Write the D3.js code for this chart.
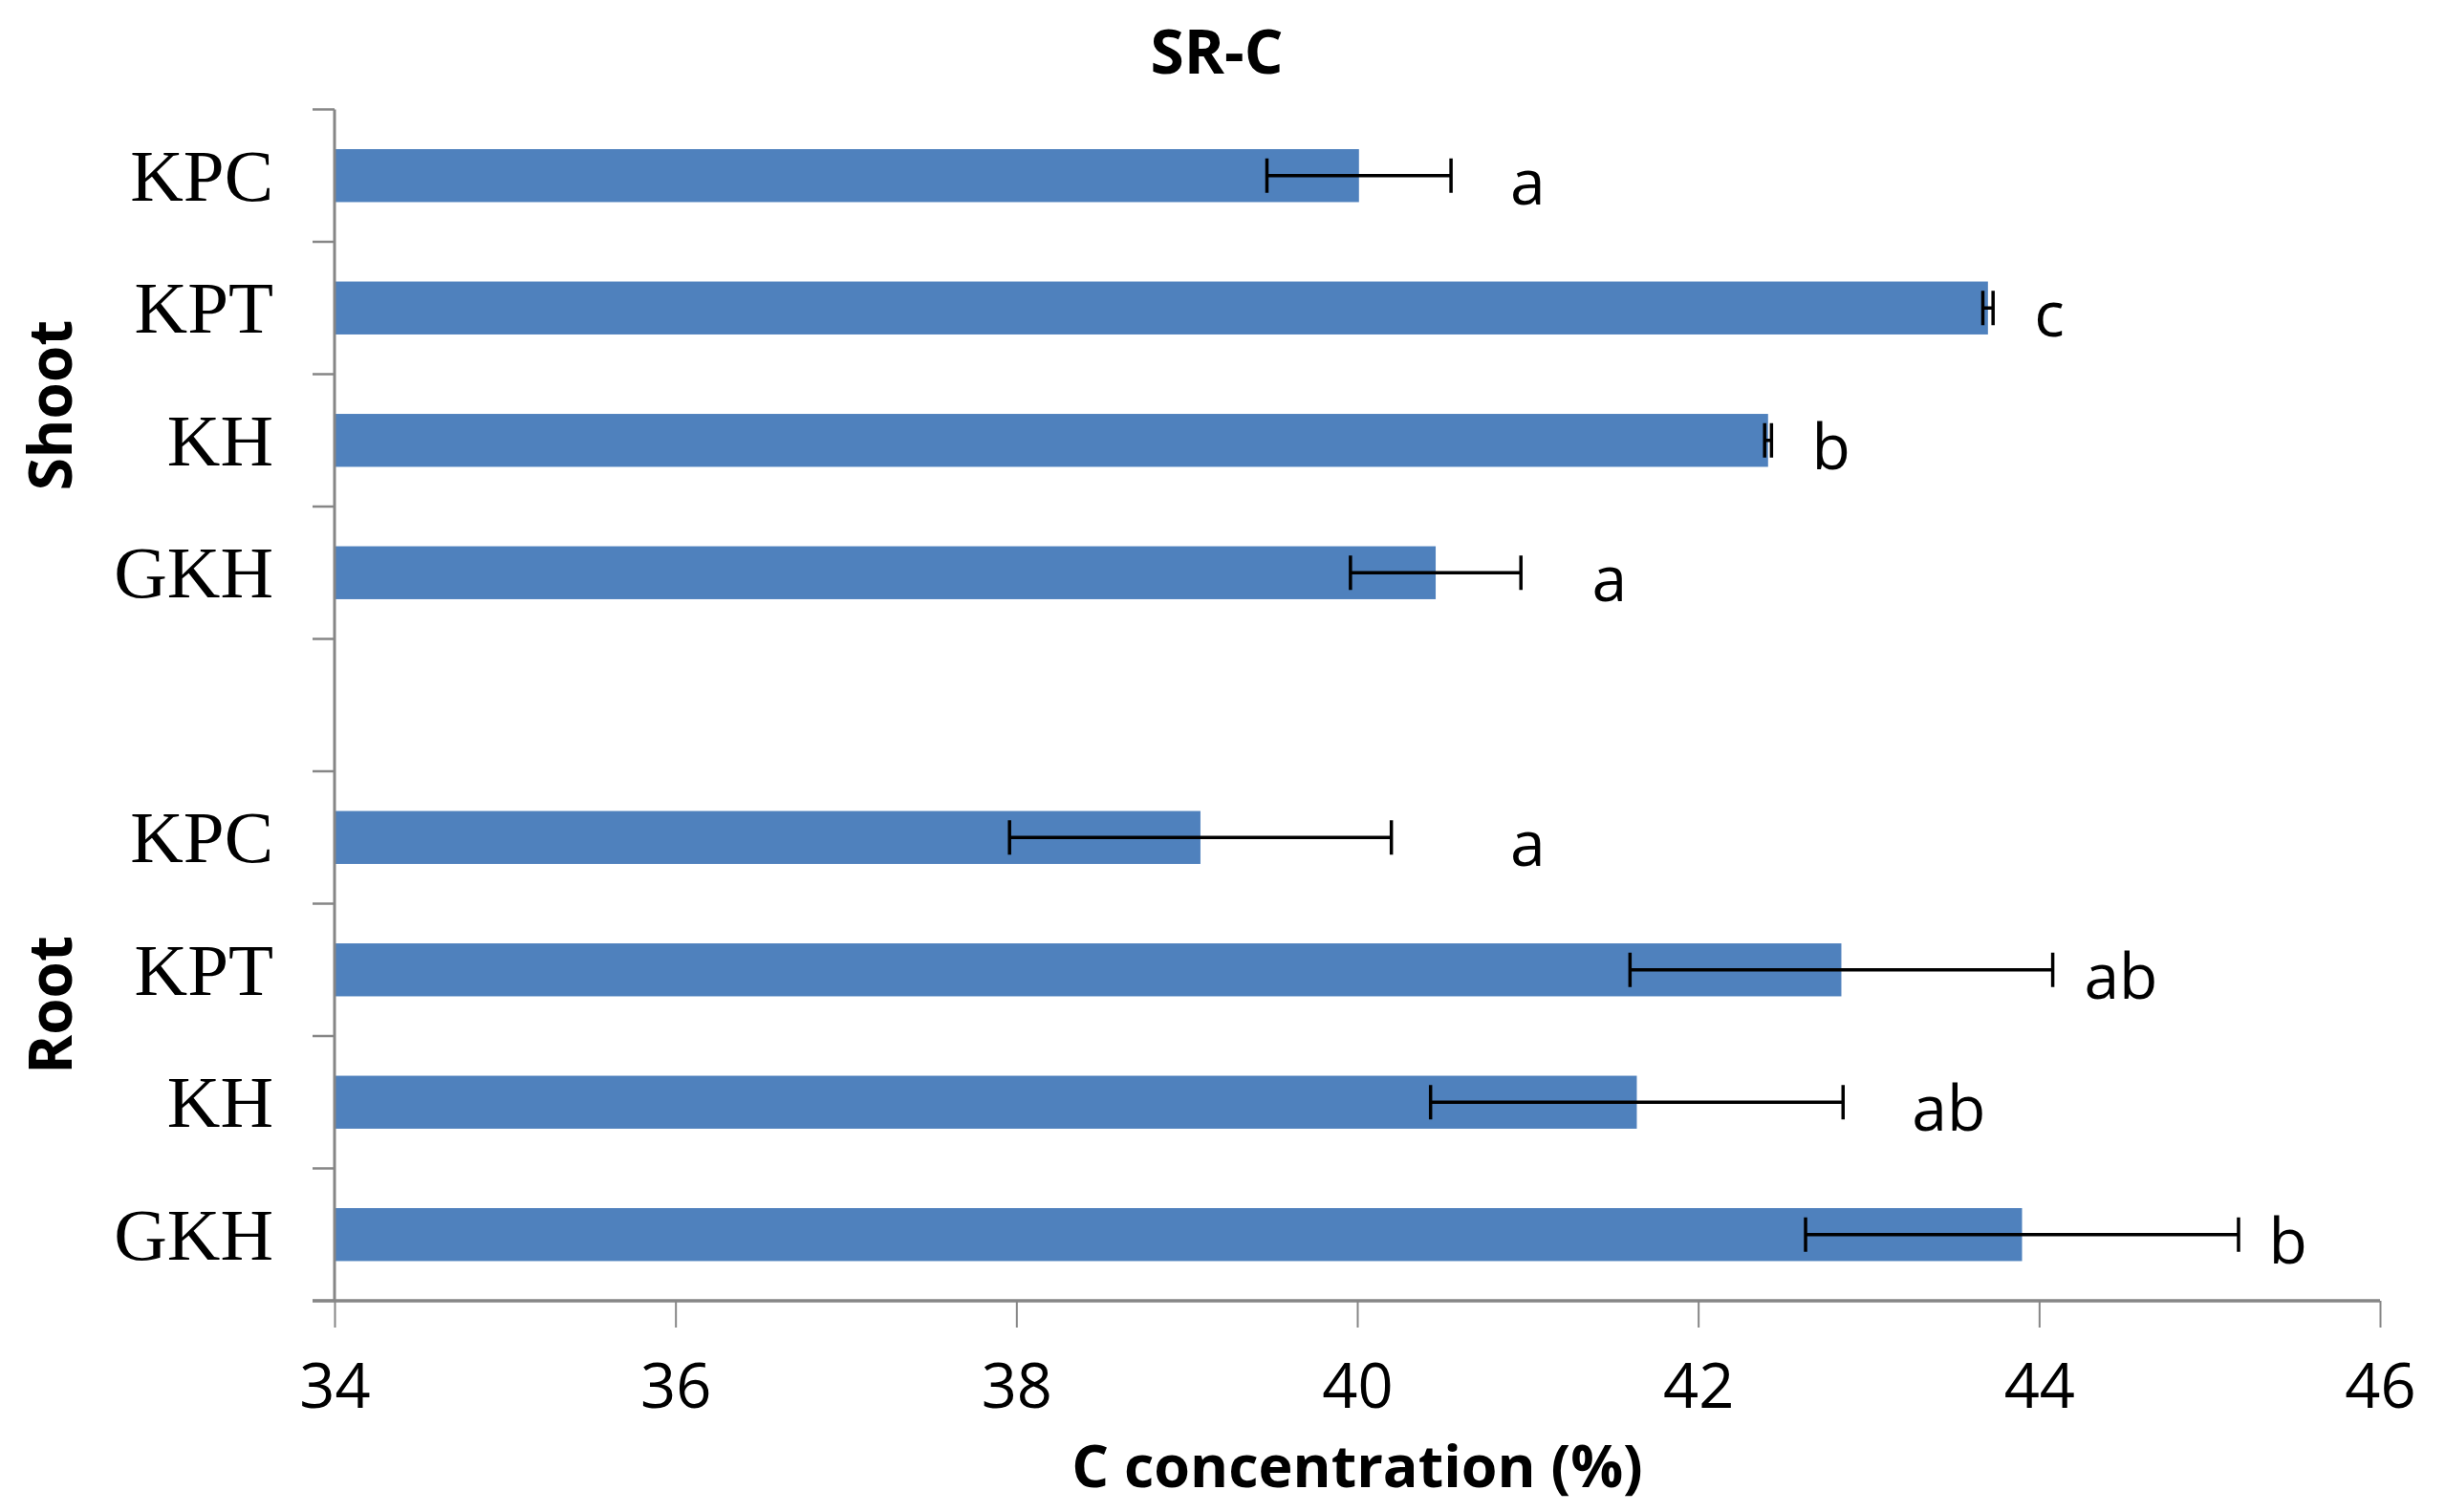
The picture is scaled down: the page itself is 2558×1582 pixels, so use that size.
<!DOCTYPE html>
<html>
<head>
<meta charset="utf-8">
<script src="https://cdn.jsdelivr.net/npm/d3@7"></script>
<style>
  html, body { margin: 0; padding: 0; background: #ffffff; }
  svg { display: block; }
</style>
</head>
<body>
<div id="chart"></div>
<script>
// ---------- data ----------
const title = "SR-C";
const xTitle = "C concentration (%)";
const groups = ["Shoot", "Root"];
const categories = ["KPC", "KPT", "KH", "GKH"];
// values (%) top to bottom within each group
const shootValues = [40.01, 43.70, 42.41, 40.46];
const shootErrors = [0.54, 0.03, 0.02, 0.50];
const shootLetters = ["a", "c", "b", "a"];
const shootLetterAt = [41.0, 44.06, 42.78, 41.48];
const rootValues = [39.08, 42.84, 41.64, 43.90];
const rootErrors = [1.12, 1.24, 1.21, 1.27];
const rootLetters = ["a", "ab", "ab", "b"];
const rootLetterAt = [41.0, 44.48, 43.47, 45.46];
const xTicks = [34, 36, 38, 40, 42, 44, 46];
const xDomain = [34, 46];

// ---------- build rows ----------
const rows = [];
categories.forEach((c, i) => rows.push({key: "Shoot-" + c, cat: c, v: shootValues[i], e: shootErrors[i], l: shootLetters[i], la: shootLetterAt[i]}));
const gapKey = "gap";
categories.forEach((c, i) => rows.push({key: "Root-" + c, cat: c, v: rootValues[i], e: rootErrors[i], l: rootLetters[i], la: rootLetterAt[i]}));
const domainKeys = rows.slice(0, 4).map(d => d.key).concat([gapKey]).concat(rows.slice(4).map(d => d.key));

// ---------- layout ----------
const W = 2558, H = 1582;
const plot = {left: 350, right: 2490, top: 114.5, bottom: 1361};
const barColor = "#4F81BD";
const axisColor = "#868686";

const svg = d3.select("#chart").append("svg").attr("width", W).attr("height", H)
  .style("background", "#fff");

const x = d3.scaleLinear().domain(xDomain).range([plot.left, plot.right]);
const y = d3.scaleBand().domain(domainKeys).range([plot.top, plot.bottom])
  .paddingInner(0.6).paddingOuter(0.3);
const step = y.step();

// bars
svg.append("g").selectAll("rect").data(rows).join("rect")
  .attr("x", x(xDomain[0]))
  .attr("y", d => y(d.key))
  .attr("width", d => x(d.v) - x(xDomain[0]))
  .attr("height", y.bandwidth())
  .attr("fill", barColor);

// error bars
const eb = svg.append("g").attr("stroke", "#000").attr("stroke-width", 3.5);
rows.forEach(d => {
  const cy = y(d.key) + y.bandwidth() / 2;
  const x0 = x(d.v - d.e), x1 = x(d.v + d.e);
  eb.append("line").attr("x1", x0).attr("x2", x1).attr("y1", cy).attr("y2", cy);
  eb.append("line").attr("x1", x0).attr("x2", x0).attr("y1", cy - 18).attr("y2", cy + 18);
  eb.append("line").attr("x1", x1).attr("x2", x1).attr("y1", cy - 18).attr("y2", cy + 18);
});

// significance letters
svg.append("g").selectAll("text").data(rows).join("text")
  .attr("x", d => x(d.la))
  .attr("y", d => y(d.key) + y.bandwidth() / 2 + 30)
  .attr("text-anchor", "middle")
  .attr("font-family", "'Open Sans', sans-serif")
  .attr("font-size", 66)
  .attr("fill", "#000")
  .text(d => d.l);

// y axis line + ticks at band boundaries
const ya = svg.append("g").attr("stroke", axisColor);
ya.append("line").attr("x1", plot.left).attr("x2", plot.left)
  .attr("y1", plot.top).attr("y2", plot.bottom).attr("stroke-width", 3);
d3.range(domainKeys.length + 1).forEach(i => {
  const ty = plot.top + i * step;
  ya.append("line").attr("x1", plot.left - 23).attr("x2", plot.left)
    .attr("y1", ty).attr("y2", ty).attr("stroke-width", 2.5);
});

// category labels
svg.append("g").selectAll("text").data(rows).join("text")
  .attr("x", 286)
  .attr("y", d => y(d.key) + y.bandwidth() / 2 + 26)
  .attr("text-anchor", "end")
  .attr("font-family", "'Liberation Serif', 'Times New Roman', serif")
  .attr("font-size", 77)
  .attr("fill", "#000")
  .text(d => d.cat);

// group labels
const midY = (plot.top + plot.bottom) / 2;
const groupY = {Shoot: midY - 2.265 * step, Root: midY + 2.265 * step};
svg.append("g").selectAll("text").data(groups).join("text")
  .attr("transform", g => `translate(75,${groupY[g]}) rotate(-90)`)
  .attr("text-anchor", "middle")
  .attr("font-family", "'Open Sans', sans-serif")
  .attr("font-weight", "bold")
  .attr("font-size", 62)
  .attr("fill", "#000")
  .text(g => g);

// x axis
const xa = svg.append("g").attr("transform", `translate(0,${plot.bottom})`)
  .call(d3.axisBottom(x).tickValues(xTicks).tickSize(28).tickSizeOuter(0).tickPadding(6).tickFormat(d3.format("d")));
xa.select(".domain").attr("stroke", axisColor).attr("stroke-width", 3.5)
  .attr("d", `M${plot.left - 23},0H${plot.right}`);
xa.selectAll(".tick line").attr("stroke", axisColor).attr("stroke-width", 2);
xa.selectAll(".tick text")
  .attr("font-family", "'Open Sans', sans-serif")
  .attr("font-size", 65)
  .attr("fill", "#000")
  .attr("dy", null)
  .attr("y", 1473 - plot.bottom);

// titles
svg.append("text").attr("x", 1273).attr("y", 77)
  .attr("text-anchor", "middle")
  .attr("font-family", "'Open Sans', sans-serif").attr("font-weight", "bold")
  .attr("font-size", 64).attr("fill", "#000").text(title);

svg.append("text").attr("x", (plot.left + plot.right) / 2).attr("y", 1556)
  .attr("text-anchor", "middle")
  .attr("font-family", "'Open Sans', sans-serif").attr("font-weight", "bold")
  .attr("font-size", 61).attr("fill", "#000").text(xTitle);
</script>
</body>
</html>
